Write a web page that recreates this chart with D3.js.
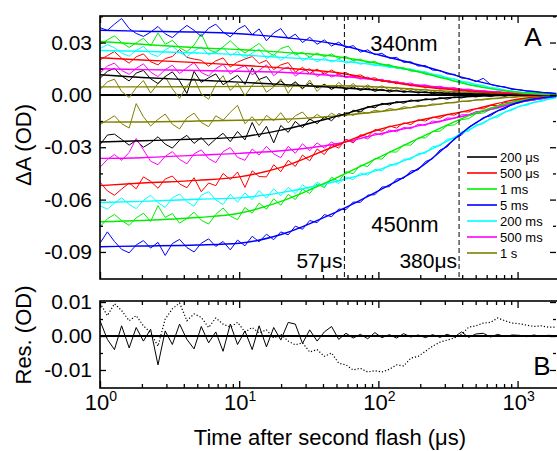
<!DOCTYPE html>
<html><head><meta charset="utf-8">
<script src="https://cdn.jsdelivr.net/npm/d3@7"></script>
<style>body{margin:0;background:#fff}svg text{font-family:"Liberation Sans",Arial,sans-serif;fill:#000}</style>
</head><body><svg id="c" width="557" height="451"></svg>
<script>
// ---- data (absorbance values in mOD = 1e-3 OD) ----
const MOD = 0.001;
const times = [1,1.13,1.27,1.43,1.62,1.82,2.05,2.31,2.61,2.94,3.31,3.73,4.21,4.74,5.34,6.03,6.79,7.66,8.63,9.73,11.0,12.4,13.9,15.7,17.7,19.9,22.5,25.3,28.5,32.1,36.3,40.9,46.1,51.9,58.5,65.9,74.3,83.8,94.4,106,120,135,152,171,193,218,245,277,312,351,396,446,503,567,639,720,811,914,1030,1161,1309,1475,1662,1873];
const fitTimes = [1,2,5,10,20,50,100,200,500,1000,1900];
const seriesNames = ["200 \u03bcs","500 \u03bcs","1 ms","5 ms","200 ms","500 ms","1 s"];
const seriesColors = ["#000000","#ff0000","#00ee00","#0000ff","#00ffff","#ff00ff","#808000"];

// 340 nm measured traces
const a340_200us = [9.5,13.5,15.2,10.8,8.0,12.5,14.0,9.2,6.5,10.5,13.2,8.0,0.8,13.5,7.2,9.8,12.0,5.8,8.5,11.2,6.0,15.5,8.8,10.5,5.2,8.0,4.5,7.5,3.8,6.8,4.0,6.0,3.2,5.4,3.0,4.6,2.5,4.0,2.0,3.3,1.6,2.8,1.4,2.4,1.0,1.9,0.7,1.6,0.4,1.2,0.2,1.0,0.0,0.8,-0.2,0.6,-0.1,0.4,-0.3,0.3,-0.2,0.2,-0.1,0.1];
const a340_500us = [20.0,22.5,24.8,21.0,18.2,21.8,23.5,19.0,17.2,20.8,22.0,26.0,21.5,20.5,19.8,16.5,19.5,21.2,16.0,18.8,20.5,22.0,18.0,19.8,14.5,17.2,18.5,13.0,15.8,12.2,14.8,12.0,14.2,11.8,12.8,10.5,11.5,9.2,9.8,7.6,8.2,6.4,7.0,5.2,5.6,4.2,4.8,3.5,4.0,2.7,3.2,2.0,2.4,1.4,1.8,1.0,1.3,0.5,0.8,0.2,0.5,0.0,0.3,0.0];
const a340_1ms = [29.0,31.5,33.8,30.0,27.2,29.8,32.5,28.0,35.5,29.0,31.2,27.0,24.8,28.5,35.0,26.0,24.2,27.5,31.0,27.0,24.0,26.8,29.5,25.0,22.5,26.5,28.0,22.8,24.5,21.5,24.0,21.8,23.5,20.8,22.0,19.6,20.5,18.4,19.2,16.8,17.4,15.2,15.6,13.6,13.8,11.8,11.6,9.8,9.5,7.8,7.4,5.8,5.3,4.2,4.0,3.0,2.8,1.8,1.6,1.0,1.2,0.6,0.7,0.3];
const a340_5ms = [38.5,37.0,40.5,43.8,38.0,35.2,33.5,36.0,39.2,35.0,32.8,36.5,39.8,37.0,33.5,38.2,40.5,36.0,33.2,37.5,39.8,34.5,37.8,31.0,35.5,38.0,32.2,34.8,30.0,33.0,29.0,31.5,28.0,30.2,27.0,28.2,24.5,25.8,23.0,23.8,21.0,21.5,18.6,19.0,16.5,16.8,14.2,14.0,12.0,11.8,9.6,9.4,7.5,9.5,6.0,5.0,4.6,3.2,3.0,2.2,2.1,1.4,1.3,0.7];
const a340_200ms = [26.5,28.8,27.0,24.0,22.2,25.5,27.8,23.5,22.0,25.8,28.0,24.5,21.8,25.2,27.5,22.8,25.0,27.2,22.5,24.8,21.0,24.0,26.2,20.8,23.5,19.8,22.8,24.5,19.5,21.8,19.0,21.0,18.8,20.5,18.2,19.5,17.5,18.6,16.6,17.4,15.6,16.2,14.4,15.0,13.2,13.4,11.4,11.4,9.5,9.3,7.6,7.3,5.6,5.5,4.0,4.0,2.6,2.4,1.2,1.4,0.8,0.9,0.4,0.4];
const a340_500ms = [12.5,16.5,18.2,14.0,11.8,15.2,17.8,13.0,10.5,14.5,17.0,12.2,15.5,18.5,12.8,10.8,15.0,17.5,12.0,14.8,16.8,11.5,14.0,17.2,11.0,14.2,16.0,10.8,13.5,15.0,10.5,12.8,10.2,12.0,9.8,11.2,9.0,10.2,8.0,9.0,7.0,7.8,6.2,6.8,5.2,5.8,4.4,5.0,3.7,4.2,2.9,3.4,2.1,2.6,1.6,2.1,1.0,1.5,0.6,1.1,0.3,0.8,0.2,0.4];
const a340_1s = [3.0,7.5,9.0,2.0,-1.5,4.0,8.2,1.0,6.5,10.5,3.5,-2.0,5.2,9.5,0.5,-2.5,6.0,11.0,2.5,6.8,-0.5,5.5,8.8,1.5,4.5,9.2,0.8,7.0,3.2,8.5,2.0,6.2,3.0,7.2,3.5,6.5,3.0,5.8,3.2,5.2,2.8,4.4,2.4,3.8,2.0,3.4,1.6,2.8,1.2,2.2,1.0,1.8,0.6,1.4,0.4,1.0,0.2,0.8,0.1,0.5,0.0,0.3,0.0,0.1];

// 450 nm measured traces
const a450_200us = [-28.5,-23.0,-22.5,-25.5,-28.8,-26.0,-30.0,-27.5,-24.0,-28.2,-30.5,-26.0,-23.2,-27.8,-24.5,-29.0,-25.2,-22.0,-26.8,-21.0,-25.8,-15.8,-24.2,-18.0,-27.5,-17.5,-21.5,-15.2,-18.8,-13.8,-16.5,-12.5,-14.8,-10.8,-12.0,-8.8,-9.8,-6.6,-7.4,-4.8,-5.8,-3.8,-4.8,-2.9,-3.8,-2.2,-3.0,-1.6,-2.5,-1.2,-1.8,-0.6,-1.2,-0.2,-1.0,0.0,-0.8,0.2,-0.5,0.2,-0.3,0.1,-0.2,0.0];
const a450_500us = [-50.0,-55.0,-57.5,-54.0,-50.5,-53.8,-47.0,-49.5,-53.5,-48.2,-46.5,-51.0,-53.2,-47.5,-55.5,-50.5,-52.0,-45.0,-48.5,-44.2,-53.0,-43.5,-46.8,-47.0,-40.0,-44.0,-37.5,-41.0,-34.5,-37.8,-31.0,-34.2,-28.5,-30.5,-25.5,-27.5,-22.8,-24.0,-19.8,-20.8,-17.8,-19.0,-16.0,-17.0,-14.2,-15.0,-12.8,-13.4,-11.2,-11.6,-9.6,-9.8,-7.8,-8.0,-6.0,-6.2,-4.3,-4.2,-2.5,-2.5,-1.6,-1.4,-0.8,-0.6];
const a450_1ms = [-75.5,-71.0,-68.5,-72.0,-74.8,-70.5,-67.8,-72.5,-63.5,-70.2,-68.0,-73.5,-70.8,-67.2,-71.8,-74.0,-68.5,-64.8,-69.5,-71.5,-64.5,-67.8,-62.0,-65.5,-59.5,-63.2,-57.0,-60.0,-54.0,-56.5,-51.0,-53.2,-47.2,-49.5,-44.0,-45.2,-40.2,-41.0,-36.4,-36.8,-32.6,-32.8,-28.6,-28.8,-24.6,-24.6,-21.0,-20.8,-17.6,-17.2,-14.2,-13.6,-10.8,-10.4,-8.4,-7.8,-6.0,-5.6,-3.8,-3.8,-2.5,-2.4,-1.3,-1.0];
const a450_5ms = [-85.0,-78.5,-84.0,-88.5,-90.5,-86.0,-83.5,-87.8,-84.5,-92.0,-85.2,-82.8,-87.5,-90.0,-85.0,-82.5,-86.8,-84.0,-88.8,-83.2,-86.5,-81.0,-84.2,-79.8,-83.0,-78.5,-80.2,-75.2,-77.0,-72.0,-73.2,-68.6,-69.8,-65.4,-65.8,-61.4,-61.6,-57.4,-57.2,-52.8,-52.6,-48.2,-47.8,-43.6,-43.0,-38.2,-36.6,-31.6,-29.8,-25.0,-23.0,-18.4,-16.2,-13.0,-12.0,-9.2,-8.0,-5.4,-4.5,-3.2,-3.0,-2.0,-1.6,-0.7];
const a450_200ms = [-63.5,-65.5,-62.0,-59.0,-62.8,-65.2,-60.5,-57.5,-61.8,-64.5,-59.0,-56.8,-61.2,-63.8,-57.5,-55.5,-60.2,-62.8,-57.0,-61.5,-56.2,-60.0,-54.8,-59.2,-53.8,-57.8,-53.0,-56.5,-51.5,-54.5,-50.0,-52.5,-48.5,-50.8,-47.0,-48.5,-44.8,-46.0,-42.6,-43.5,-39.8,-40.2,-36.8,-37.0,-33.6,-33.4,-29.6,-29.2,-25.4,-25.0,-21.2,-20.8,-17.2,-16.6,-13.4,-12.8,-9.8,-8.8,-6.4,-6.0,-4.3,-3.8,-2.3,-1.6];
const a450_500ms = [-41.5,-37.0,-34.2,-37.5,-33.0,-25.0,-31.5,-38.0,-40.0,-35.2,-32.5,-37.0,-39.5,-33.8,-31.5,-36.5,-38.8,-32.5,-30.2,-35.8,-37.5,-31.0,-34.5,-29.5,-33.8,-36.0,-29.5,-33.5,-28.0,-32.0,-27.5,-30.5,-27.0,-29.2,-25.5,-27.0,-23.8,-25.2,-22.0,-23.0,-20.2,-21.2,-18.6,-19.4,-16.8,-17.5,-15.0,-15.6,-13.2,-13.5,-11.4,-11.4,-9.6,-9.2,-7.5,-7.0,-5.4,-4.8,-3.8,-3.5,-2.5,-2.3,-1.4,-1.1];
const a450_1s = [-17.0,-14.5,-12.0,-16.5,-19.0,-5.0,-12.5,-17.8,-14.0,-11.0,-16.8,-19.5,-13.2,-10.5,-15.8,-18.2,-12.0,-14.5,-10.0,-6.0,-16.5,-12.5,-17.5,-11.8,-14.8,-10.2,-16.0,-12.0,-9.8,-14.5,-11.2,-13.8,-10.5,-12.8,-10.0,-11.8,-9.5,-10.6,-8.8,-9.6,-7.8,-8.6,-6.8,-7.4,-6.0,-6.4,-5.2,-5.4,-4.4,-4.6,-3.6,-3.8,-2.8,-2.9,-2.0,-2.2,-1.4,-1.6,-0.9,-1.0,-0.5,-0.7,-0.2,-0.3];

// fitted curves, sampled at fitTimes (mOD)
const f340_200us = [11.5,10,8.5,7.3,6,4.2,2.8,1.5,0.5,0.1,0];
const f340_500us = [21.3,20,18.5,17,15.5,12.8,8.5,4.8,2,0.6,0.1];
const f340_1ms   = [30.6,29,27,26,24.5,22,18,13,5,1.5,0.4];
const f340_5ms   = [37,36.5,36,35,33,29,23,17,8,3,0.8];
const f340_200ms = [25.4,25,24,23,21.5,19.5,17,13.5,6,1.5,0.3];
const f340_500ms = [15,14.5,14,13.5,13,11,8.5,5.5,2.5,1,0.3];
const f340_1s    = [4.6,4.6,4.7,4.8,5,5.2,4.5,3,1.3,0.5,0.1];
const f450_200us = [-27,-26.3,-25.3,-24.2,-20.2,-12.3,-5.8,-3,-0.8,-0.2,0];
const f450_500us = [-52,-50.5,-49,-47,-41.5,-29,-20,-14.5,-8,-2.5,-0.5];
const f450_1ms   = [-72.7,-72,-70.3,-67.8,-61,-47.5,-36,-24.5,-10.5,-3.5,-0.8];
const f450_5ms   = [-87,-86.6,-86,-85,-80,-67,-55,-41.5,-16,-4.5,-0.8];
const f450_200ms = [-61.7,-61,-59.8,-59,-56,-49.5,-43,-34,-18,-7,-1.5];
const f450_500ms = [-36.4,-36,-34.5,-33.5,-32,-28,-22.5,-17.5,-10.5,-4.5,-1];
const f450_1s    = [-15.6,-15.5,-15,-14.5,-14,-12,-9.7,-6.6,-3,-1.1,-0.3];

// residuals (mOD), at times
const resSolid = [4.5,-1.0,-4.0,3.0,-3.5,2.5,-1.5,2.0,-8.5,1.5,-2.5,3.5,-1.0,-3.8,2.8,-2.0,1.2,-4.5,3.5,-2.5,1.5,-4.0,3.0,-3.2,2.5,-1.2,4.0,3.5,-2.2,1.8,-1.5,1.2,2.8,-1.0,0.8,-0.6,0.5,-0.8,1.0,-0.5,0.4,-0.6,0.7,-0.3,0.3,-0.5,0.4,-0.4,0.5,-0.3,1.2,-0.4,0.6,0.8,-0.3,0.5,-0.2,0.3,0.2,-0.2,0.3,-0.1,0.2,0.1];
const resDotted = [9.7,6.0,9.5,7.5,4.5,6.0,3.0,1.0,-3.0,5.0,8.0,9.7,4.5,6.5,5.5,2.5,5.3,3.5,2.6,4.0,1.2,2.5,0.9,1.8,-0.6,0.5,-1.5,-2.6,-2.0,-4.7,-4.0,-6.0,-5.0,-8.0,-8.5,-10.0,-9.5,-10.6,-10.2,-10.6,-9.8,-8.5,-8.8,-6.5,-6.0,-4.5,-3.0,-1.8,-1.2,-0.6,0.5,2.6,3.0,3.8,4.0,5.3,4.5,3.8,3.6,3.2,2.8,3.0,2.6,2.6];

const yTicksA = [-0.09,-0.06,-0.03,0,0.03];
const yMinorA = [-0.075,-0.045,-0.015,0.015,0.045];
const yTicksB = [-0.01,0,0.01];
const yMinorB = [-0.005,0.005];
const xMajor = [1,10,100,1000];
const xMinor = [2,3,4,5,6,7,8,9,20,30,40,50,60,70,80,90,200,300,400,500,600,700,800,900];
const markTimes = [57,380];
const markLabels = ["57\u03bcs","380\u03bcs"];

// ---- layout ----
const xL=100, xR=557, topA=16, botA=279, topB=301, botB=388;
const svg = d3.select("#c");
const x = d3.scaleLog().domain([1,1920]).range([xL,xR]);
const yA = d3.scaleLinear().domain([-0.1055,0.0452]).range([botA,topA]);
const yB = d3.scaleLinear().domain([-0.0153,0.0103]).range([botB,topB]);

const defs = svg.append("defs");
defs.append("clipPath").attr("id","clipA").append("rect").attr("x",xL).attr("y",topA).attr("width",xR-xL).attr("height",botA-topA);
defs.append("clipPath").attr("id","clipB").append("rect").attr("x",xL).attr("y",topB).attr("width",xR-xL).attr("height",botB-topB);

// zero lines
const gA = svg.append("g").attr("clip-path","url(#clipA)");
gA.append("line").attr("x1",xL).attr("x2",xR).attr("y1",yA(0)).attr("y2",yA(0)).attr("stroke","#000").attr("stroke-width",2);

const s340 = [a340_200us,a340_500us,a340_1ms,a340_5ms,a340_200ms,a340_500ms,a340_1s];
const s450 = [a450_200us,a450_500us,a450_1ms,a450_5ms,a450_200ms,a450_500ms,a450_1s];
const fit340 = [f340_200us,f340_500us,f340_1ms,f340_5ms,f340_200ms,f340_500ms,f340_1s];
const fit450 = [f450_200us,f450_500us,f450_1ms,f450_5ms,f450_200ms,f450_500ms,f450_1s];

const dataLine = d3.line().x((d,i)=>x(times[i])).y(d=>yA(d*MOD));
const fitLine = d3.line().x((d,i)=>x(fitTimes[i])).y(d=>yA(d*MOD)).curve(d3.curveMonotoneX);
const order = [6,0,5,1,4,2,3];
order.forEach(k=>{
  [s340[k], s450[k]].forEach(s=>{
    gA.append("path").attr("d",dataLine(s)).attr("fill","none").attr("stroke",seriesColors[k]).attr("stroke-width",1).attr("stroke-linejoin","round");
  });
});
order.forEach(k=>{
  [fit340[k], fit450[k]].forEach(s=>{
    gA.append("path").attr("d",fitLine(s)).attr("fill","none").attr("stroke",seriesColors[k]).attr("stroke-width",1.4);
  });
});

// dashed markers
markTimes.forEach((t,i)=>{
  svg.append("line").attr("x1",x(t)).attr("x2",x(t)).attr("y1",topA).attr("y2",botA).attr("stroke","#000").attr("stroke-width",1).attr("stroke-dasharray","5,3");
  svg.append("text").attr("x",x(t)-2).attr("y",268).attr("text-anchor","end").attr("font-size",21).text(markLabels[i]);
});

// residual panel
const gB = svg.append("g").attr("clip-path","url(#clipB)");
gB.append("line").attr("x1",xL).attr("x2",xR).attr("y1",yB(0)).attr("y2",yB(0)).attr("stroke","#000").attr("stroke-width",2.2);
const resLine = d3.line().x((d,i)=>x(times[i])).y(d=>yB(d*MOD));
gB.append("path").attr("d",resLine(resDotted)).attr("fill","none").attr("stroke","#000").attr("stroke-width",1.2).attr("stroke-dasharray","1.2,2");
gB.append("path").attr("d",resLine(resSolid)).attr("fill","none").attr("stroke","#000").attr("stroke-width",1);

// axes
function clean(g){ g.select(".domain").remove(); g.selectAll("text").attr("font-size",21).attr("fill","#000"); g.selectAll("line").attr("stroke","#000").attr("stroke-width",1.3); }
const fmt = d=>d.toFixed(2);
[[yA,yTicksA,yMinorA],[yB,yTicksB,yMinorB]].forEach(([ys,maj,min])=>{
  svg.append("g").attr("transform",`translate(${xL},0)`).call(d3.axisLeft(ys).tickValues(maj).tickSizeInner(-6).tickSizeOuter(0).tickPadding(8).tickFormat(fmt)).call(clean);
  svg.append("g").attr("transform",`translate(${xL},0)`).call(d3.axisLeft(ys).tickValues(min).tickSizeInner(-3).tickSizeOuter(0).tickFormat("")).call(clean);
  svg.append("g").attr("transform",`translate(${xR-1},0)`).call(d3.axisRight(ys).tickValues(maj).tickSizeInner(-6).tickSizeOuter(0).tickFormat("")).call(clean);
  svg.append("g").attr("transform",`translate(${xR-1},0)`).call(d3.axisRight(ys).tickValues(min).tickSizeInner(-3).tickSizeOuter(0).tickFormat("")).call(clean);
});
[[botA,d3.axisBottom],[topA,d3.axisTop],[botB,d3.axisBottom],[topB,d3.axisTop]].forEach(([yy,ax])=>{
  svg.append("g").attr("transform",`translate(0,${yy})`).call(ax(x).tickValues(xMajor).tickSizeInner(-7).tickSizeOuter(0).tickFormat("")).call(clean);
  svg.append("g").attr("transform",`translate(0,${yy})`).call(ax(x).tickValues(xMinor).tickSizeInner(-4).tickSizeOuter(0).tickFormat("")).call(clean);
});
// frames
[[topA,botA],[topB,botB]].forEach(([t,b])=>{
  svg.append("rect").attr("x",xL).attr("y",t).attr("width",xR-xL+2).attr("height",b-t).attr("fill","none").attr("stroke","#000").attr("stroke-width",1.6);
});

// x tick labels 10^n
xMajor.forEach(t=>{
  const tx = svg.append("text").attr("x",x(t)+1).attr("y",410).attr("text-anchor","middle").attr("font-size",22);
  tx.append("tspan").text("10");
  tx.append("tspan").attr("font-size",14).attr("dy",-9).text(String(Math.round(Math.log10(t))));
});

// titles
svg.append("text").attr("x",330).attr("y",445).attr("text-anchor","middle").attr("font-size",22).text("Time after second flash (\u03bcs)");
svg.append("text").attr("transform","translate(31,145) rotate(-90)").attr("text-anchor","middle").attr("font-size",22).text("\u0394A (OD)");
svg.append("text").attr("transform","translate(31,335) rotate(-90)").attr("text-anchor","middle").attr("font-size",22).text("Res. (OD)");

// annotations
svg.append("text").attr("x",404).attr("y",51).attr("text-anchor","middle").attr("font-size",22).text("340nm");
svg.append("text").attr("x",405).attr("y",232).attr("text-anchor","middle").attr("font-size",22).text("450nm");
svg.append("text").attr("x",533).attr("y",46).attr("text-anchor","middle").attr("font-size",26).text("A");
svg.append("text").attr("x",542).attr("y",375).attr("text-anchor","middle").attr("font-size",26).text("B");

// legend
seriesNames.forEach((n,i)=>{
  const yy = 157 + i*16;
  svg.append("line").attr("x1",467).attr("x2",497).attr("y1",yy).attr("y2",yy).attr("stroke",seriesColors[i]).attr("stroke-width",1.6);
  svg.append("text").attr("x",500).attr("y",yy+4.5).attr("font-size",13).text(n);
});
</script></body></html>
